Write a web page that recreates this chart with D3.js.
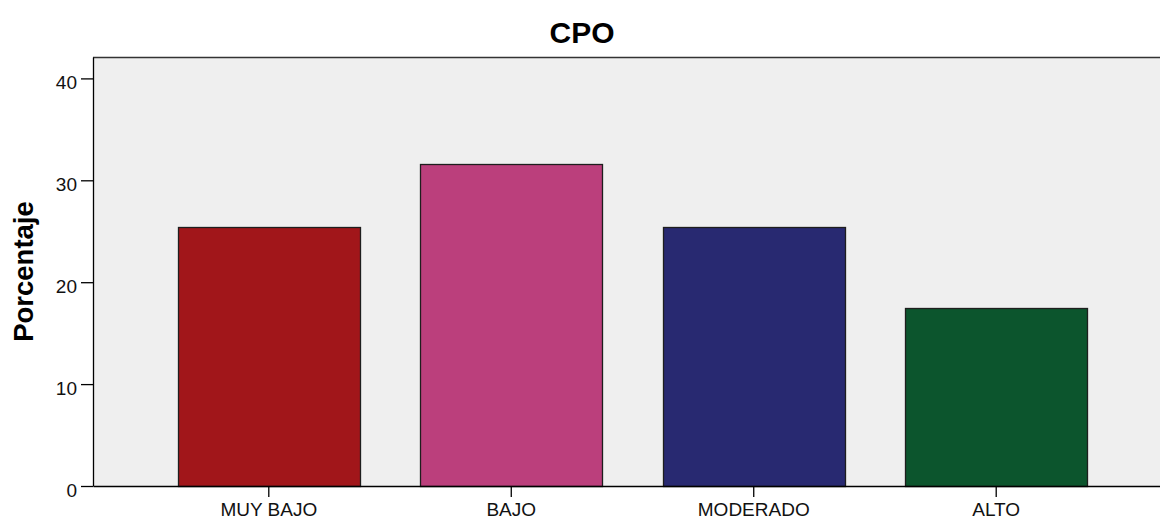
<!DOCTYPE html>
<html>
<head>
<meta charset="utf-8">
<script src="https://cdn.jsdelivr.net/npm/d3@7"></script>
<style>
  html, body { margin: 0; padding: 0; background: #ffffff; }
  svg { display: block; }
  text { font-family: "Liberation Sans", Arial, sans-serif; }
</style>
</head>
<body>
<svg id="chart" width="1160" height="521"></svg>
<script>
// CPO distribution (percentage per level)
const categories = ["MUY BAJO", "BAJO", "MODERADO", "ALTO"];
const percentages = [25.4, 31.6, 25.4, 17.5];
const barColors = ["#a1161a", "#bb3f7c", "#282971", "#0c552d"];
const yTicks = [0, 10, 20, 30, 40];

const svg = d3.select("#chart");
const W = 1160, H = 521;
const plot = { left: 93, top: 57, right: 1172, bottom: 486 };
const FONT = "'Liberation Sans', Arial, sans-serif";

const x = d3.scaleBand()
  .domain(categories)
  .range([plot.left, plot.right])
  .paddingInner(0.25)
  .paddingOuter(0.35);

const y = d3.scaleLinear()
  .domain([0, 42.1])
  .range([plot.bottom, plot.top]);

// plot background
svg.append("rect")
  .attr("x", plot.left).attr("y", plot.top)
  .attr("width", plot.right - plot.left).attr("height", plot.bottom - plot.top)
  .attr("fill", "#efefef");

// top frame line
svg.append("line")
  .attr("x1", plot.left).attr("x2", W)
  .attr("y1", plot.top + 0.5).attr("y2", plot.top + 0.5)
  .attr("stroke", "#333").attr("stroke-width", 1.5);

// bars
svg.append("g").selectAll("rect")
  .data(categories)
  .join("rect")
  .attr("x", d => Math.round(x(d)) + 0.5)
  .attr("y", (d, i) => Math.round(y(percentages[i])) + 0.5)
  .attr("width", Math.round(x.bandwidth()))
  .attr("height", (d, i) => Math.round(y(0)) - Math.round(y(percentages[i])))
  .attr("fill", (d, i) => barColors[i])
  .attr("stroke", "#1e1e1e")
  .attr("stroke-width", 1.3);

// y axis
const yAxis = d3.axisLeft(y).tickValues(yTicks).tickSizeInner(12).tickSizeOuter(0)
  .tickPadding(4).tickFormat(d3.format("d"));
const gy = svg.append("g")
  .attr("transform", `translate(${plot.left},0)`)
  .call(yAxis);
gy.select(".domain").attr("stroke", "#000").attr("stroke-width", 1.3);
gy.selectAll(".tick line").attr("stroke", "#000").attr("stroke-width", 1.3);
gy.selectAll(".tick text").attr("font-size", 19).attr("fill", "#111")
  .attr("dy", "0.55em").attr("font-family", FONT);

// x axis
const xAxis = d3.axisBottom(x).tickSizeInner(11).tickSizeOuter(0).tickPadding(6);
const gx = svg.append("g")
  .attr("transform", `translate(0,${plot.bottom})`)
  .call(xAxis);
gx.select(".domain").attr("stroke", "#000").attr("stroke-width", 1.3);
gx.selectAll(".tick line").attr("stroke", "#000").attr("stroke-width", 1.3);
gx.selectAll(".tick text").attr("font-size", 19).attr("fill", "#111")
  .attr("font-family", FONT);

// title
svg.append("text")
  .attr("x", 582).attr("y", 43)
  .attr("text-anchor", "middle")
  .attr("font-size", 30).attr("font-weight", "bold").attr("fill", "#000")
  .text("CPO");

// y axis label
svg.append("text")
  .attr("transform", `translate(33,${(plot.top + plot.bottom) / 2}) rotate(-90)`)
  .attr("text-anchor", "middle")
  .attr("font-size", 27.5).attr("font-weight", "bold").attr("fill", "#000")
  .text("Porcentaje");
</script>
</body>
</html>
